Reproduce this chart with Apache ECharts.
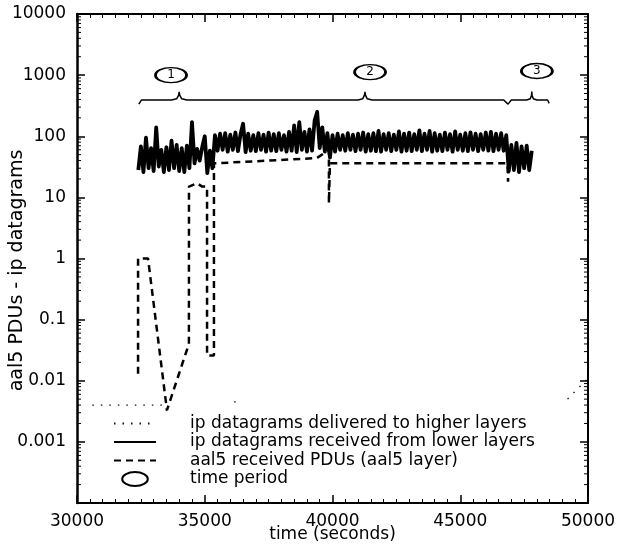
<!DOCTYPE html>
<html>
<head>
<meta charset="utf-8">
<script src="https://cdn.jsdelivr.net/npm/echarts@6/dist/echarts.min.js"></script>
<style>
html, body { margin: 0; padding: 0; background: #fff; }
#chart { width: 618px; height: 545px; }
</style>
</head>
<body>
<div id="chart"></div>
<script>

// ip datagrams received from lower layers (sampled every 100 s)
var recvStep = 100;
var recvStart1 = 32400;
var recvVals1 = [28, 68, 26, 95, 30, 64, 27, 140, 32, 60, 26, 66, 28, 85, 30, 72, 27, 64, 26, 70,
    30, 170, 36, 62, 40, 66, 100, 25, 58];
var recvStart2 = 35300;
var recvVals2 = [30, 104, 58, 110, 60, 112, 56, 106, 60, 115, 57, 108, 160, 55, 110, 58, 104, 57, 112, 60,
    106, 56, 115, 58, 108, 57, 112, 60, 104, 56, 118, 58, 150, 55, 170, 60, 118, 56, 130, 58,
    180, 250, 64, 140, 56, 112, 45, 104, 56, 110, 60, 104, 58, 112, 60, 106, 57, 110, 60, 115,
    56, 108, 58, 112, 57, 122, 56, 108, 60, 112, 57, 106, 60, 120, 56, 110, 58, 115, 57, 108,
    60, 125, 57, 110, 60, 122, 56, 112, 58, 106, 57, 115, 60, 108, 56, 120, 60, 106, 58, 112,
    57, 116, 60, 110, 57, 108, 60, 115, 58, 118, 57, 110, 60, 112, 58, 104];
var recvStart3 = 46900;
var recvVals3 = [27, 72, 28, 78, 26, 68, 30, 70, 28, 58];

// aal5 received PDUs
var aal5Time = [32390, 32390, 32780, 33520, 34380, 34383, 34700, 34900, 35090, 35090, 35360, 35360,
    39390, 39860, 39860, 39900, 46850, 46870, 46900, 47800];
var aal5Vals = [0.013, 1.0, 1.0, 0.0033, 0.04, 15, 17, 15, 15, 0.026, 0.026, 36,
    44, 60, 8, 36, 36, 18, 40, 45];

// ip datagrams delivered to higher layers (null = nothing drawn)
var delivTime = [30600, 33400, 33550, 35850, 36150, 36300, 47300, 47550, 47700, 49200, 50000];
var delivVals = [0.004, 0.004, 0.003, null, 0.0045, 0.0045, null, 0.0045, null, 0.005, 0.011];

// braces over the time periods
var braceTime = [32420, 32520, 33700, 33900, 33980, 34000, 34020, 34100, 34300, 35450, 35520, 35600,
    41000, 41180, 41250, 41270, 41290, 41360, 41550, 46700, 46870, 47000, 47600, 47740, 47790,
    47800, 47810, 47860, 48000, 48420, 48480];
var braceVals = [335, 390, 392, 410, 470, 530, 470, 410, 392, 392, 420, 392,
    392, 410, 470, 530, 470, 410, 392, 392, 335, 392, 392, 410, 470,
    540, 470, 410, 392, 392, 345];

// time period markers
var periodTime = [33680, 41470, 48000];
var periodVals = [1000, 1120, 1170];
var periodLabels = ['1', '2', '3'];

var yTickLabels = ['', '0.001', '0.01', '0.1', '1', '10', '100', '1000', '10000'];

var names = ['ip datagrams delivered to higher layers', 'ip datagrams received from lower layers',
    'aal5 received PDUs (aal5 layer)', 'time period'];

function Seg(start, vals, out) {
    for (var i = 0; i < vals.length; i++) out.push([start + i * recvStep, vals[i]]);
}

var recvData = [];
Seg(recvStart1, recvVals1, recvData);
Seg(recvStart2, recvVals2, recvData);
Seg(recvStart3, recvVals3, recvData);

function Pairs(xs, ys) {
    var out = [];
    for (var i = 0; i < xs.length; i++) out.push([xs[i], ys[i] == null ? '-' : ys[i]]);
    return out;
}

// minor ticks of the log axis at 2..9 x 10^k
var minorVals = [];
for (var k = -4; k < 4; k++) {
    for (var m = 2; m <= 9; m++) minorVals.push([30000, m * Math.pow(10, k)]);
}

var font = 'DejaVu Sans';
var chart = echarts.init(document.getElementById('chart'));

var xBase = {
    type: 'value', min: 30000, max: 50000, interval: 5000,
    splitLine: { show: false },
    axisLine: { onZero: false, lineStyle: { color: '#000', width: 2 } },
    axisTick: { inside: true, length: 8, lineStyle: { color: '#000', width: 1.5 } },
    minorTick: { show: true, splitNumber: 10, length: 4, lineStyle: { color: '#000', width: 1 } }
};
var yBase = {
    type: 'log', logBase: 10, min: 0.0001, max: 10000,
    splitLine: { show: false },
    axisLine: { onZero: false, lineStyle: { color: '#000', width: 2 } },
    axisTick: { inside: true, length: 8, lineStyle: { color: '#000', width: 1.5 } }
};

var hideDot = { opacity: 0 };

var option = {
    animation: false,
    backgroundColor: '#fff',
    grid: { left: 77, right: 30, top: 14, bottom: 42, outerBoundsMode: 'none', containLabel: false },
    legend: {
        orient: 'vertical',
        left: 108,
        top: 410,
        itemWidth: 42,
        itemHeight: 14,
        itemGap: 1.5,
        textStyle: { fontFamily: font, fontSize: 17, color: '#000', padding: [0, 0, 0, 29] },
        data: [
            { name: names[0], itemStyle: hideDot },
            { name: names[1], itemStyle: hideDot },
            { name: names[2], itemStyle: hideDot },
            { name: names[3], icon: 'path://M0 6A11 6 0 1 0 22 6A11 6 0 1 0 0 6Z' }
        ]
    },
    xAxis: [
        Object.assign({}, xBase, {
            position: 'bottom',
            name: 'time (seconds)',
            nameLocation: 'middle',
            nameGap: 23,
            nameMoveOverlap: false,
            nameTextStyle: { fontFamily: font, fontSize: 17, color: '#000' },
            axisLabel: {
                fontFamily: font, fontSize: 17, color: '#000', margin: 10,
                formatter: function (v) { return String(v); }
            }
        }),
        Object.assign({}, xBase, { position: 'top', axisLabel: { show: false } })
    ],
    yAxis: [
        Object.assign({}, yBase, {
            position: 'left',
            name: 'aal5 PDUs - ip datagrams',
            nameLocation: 'middle',
            nameGap: 50,
            nameMoveOverlap: false,
            nameTextStyle: { fontFamily: font, fontSize: 19, color: '#000', padding: [0, 24, 0, 0] },
            axisLine: { onZero: false, lineStyle: { color: '#000', width: 2.5 } },
            axisLabel: {
                fontFamily: font, fontSize: 17, color: '#000', margin: 11,
                formatter: function (v) {
                    return yTickLabels[Math.round(Math.log(v) / Math.LN10) + 4] || '';
                }
            }
        }),
        Object.assign({}, yBase, { position: 'right', axisLabel: { show: false } })
    ],
    series: [
        {
            name: names[0],
            type: 'line',
            symbol: 'none',
            connectNulls: false,
            lineStyle: { color: '#111', width: 1.3, type: [1.5, 7] },
            itemStyle: { color: '#111' },
            data: Pairs(delivTime, delivVals),
            z: 3
        },
        {
            name: names[1],
            type: 'line',
            symbol: 'none',
            lineStyle: { color: '#000', width: 3.8, join: 'round' },
            itemStyle: { color: '#000' },
            data: recvData,
            z: 4
        },
        {
            name: names[2],
            type: 'line',
            symbol: 'none',
            lineStyle: { color: '#000', width: 2.5, type: [7, 5] },
            itemStyle: { color: '#000' },
            data: Pairs(aal5Time, aal5Vals),
            z: 3
        },
        {
            name: names[3],
            type: 'scatter',
            symbol: 'circle',
            symbolSize: [31, 15],
            itemStyle: { color: '#fff', borderColor: '#000', borderWidth: 2, opacity: 1 },
            label: {
                show: true,
                position: 'inside',
                fontFamily: font,
                fontSize: 12,
                color: '#000',
                formatter: function (p) { return periodLabels[p.dataIndex]; }
            },
            data: Pairs(periodTime, periodVals),
            z: 5
        },
        {
            name: 'braces',
            type: 'line',
            symbol: 'none',
            lineStyle: { color: '#000', width: 1.5 },
            data: Pairs(braceTime, braceVals),
            z: 5
        },
        {
            name: 'minor',
            type: 'custom',
            silent: true,
            renderItem: function (params, api) {
                var v = api.value(1);
                var l = api.coord([30000, v]);
                var r = api.coord([50000, v]);
                return {
                    type: 'group',
                    children: [
                        { type: 'line', shape: { x1: l[0], y1: l[1], x2: l[0] + 4, y2: l[1] }, style: { stroke: '#000', lineWidth: 1 } },
                        { type: 'line', shape: { x1: r[0], y1: r[1], x2: r[0] - 4, y2: r[1] }, style: { stroke: '#000', lineWidth: 1 } }
                    ]
                };
            },
            data: minorVals,
            z: 6
        }
    ]
};

chart.setOption(option);

</script>
</body>
</html>
